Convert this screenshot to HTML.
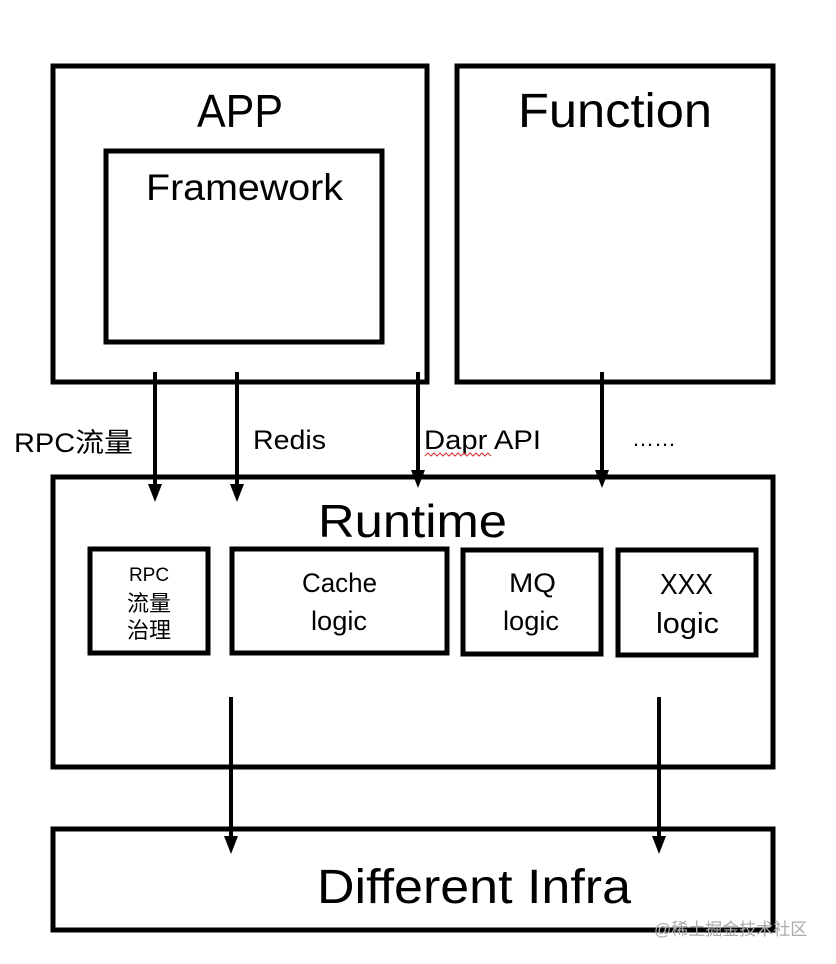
<!DOCTYPE html>
<html><head><meta charset="utf-8"><style>
html,body{margin:0;padding:0;background:#fff;}
svg{display:block;}
text{font-family:"Liberation Sans","Noto Sans CJK SC",sans-serif;fill:#000;}
</style></head><body>
<svg width="836" height="964" viewBox="0 0 836 964" xmlns="http://www.w3.org/2000/svg">
<g fill="none" stroke="#000" stroke-width="5">
<rect x="53" y="66" width="374" height="316"/>
<rect x="106" y="151" width="276" height="191"/>
<rect x="457" y="66" width="316" height="316"/>
<rect x="53" y="477" width="720" height="290"/>
<rect x="90" y="549" width="118" height="104"/>
<rect x="232" y="549" width="215" height="104"/>
<rect x="463" y="550" width="138" height="104"/>
<rect x="618" y="550" width="138" height="105"/>
<rect x="53" y="829" width="720" height="101"/>
</g>
<g stroke="#000" stroke-width="4">
<line x1="155" y1="372" x2="155" y2="486"/>
<line x1="237" y1="372" x2="237" y2="486"/>
<line x1="418" y1="372" x2="418" y2="472"/>
<line x1="602" y1="372" x2="602" y2="472"/>
<line x1="231" y1="697" x2="231" y2="838"/>
<line x1="659" y1="697" x2="659" y2="838"/>
</g>
<g fill="#000">
<polygon points="148,484 162,484 155,502"/>
<polygon points="230,484 244,484 237,502"/>
<polygon points="411,470 425,470 418,488"/>
<polygon points="595,470 609,470 602,488"/>
<polygon points="224,836 238,836 231,854"/>
<polygon points="652,836 666,836 659,854"/>
</g>
<text x="197" y="127" font-size="46" textLength="86" lengthAdjust="spacingAndGlyphs">APP</text>
<text x="146" y="200" font-size="37" textLength="197" lengthAdjust="spacingAndGlyphs">Framework</text>
<text x="518" y="127" font-size="48" textLength="194" lengthAdjust="spacingAndGlyphs">Function</text>
<text x="318" y="537" font-size="46" textLength="189" lengthAdjust="spacingAndGlyphs">Runtime</text>
<text x="317" y="903" font-size="48" textLength="314" lengthAdjust="spacingAndGlyphs">Different Infra</text>
<text x="14" y="452" font-size="27" textLength="119" lengthAdjust="spacingAndGlyphs">RPC流量</text>
<text x="253" y="449" font-size="27" textLength="73" lengthAdjust="spacingAndGlyphs">Redis</text>
<text x="424" y="449" font-size="27" textLength="117" lengthAdjust="spacingAndGlyphs">Dapr API</text>
<path d="M425 456 l3 -3 l3 3 l3 -3 l3 3 l3 -3 l3 3 l3 -3 l3 3 l3 -3 l3 3 l3 -3 l3 3 l3 -3 l3 3 l3 -3 l3 3 l3 -3 l3 3 l3 -3 l3 3 l3 -3 l3 3" fill="none" stroke="#d33" stroke-width="1"/>
<text x="632" y="446" font-size="22" textLength="44" lengthAdjust="spacingAndGlyphs">……</text>
<text x="149" y="581" font-size="19" text-anchor="middle">RPC</text>
<text x="149" y="611" font-size="22" text-anchor="middle">流量</text>
<text x="149" y="638" font-size="22" text-anchor="middle">治理</text>
<text x="302" y="592" font-size="27" textLength="75" lengthAdjust="spacingAndGlyphs">Cache</text>
<text x="311" y="630" font-size="27" textLength="56" lengthAdjust="spacingAndGlyphs">logic</text>
<text x="509" y="592" font-size="27" textLength="47" lengthAdjust="spacingAndGlyphs">MQ</text>
<text x="503" y="630" font-size="27" textLength="56" lengthAdjust="spacingAndGlyphs">logic</text>
<text x="660" y="594" font-size="29" textLength="53" lengthAdjust="spacingAndGlyphs">XXX</text>
<text x="656" y="633" font-size="29" textLength="63" lengthAdjust="spacingAndGlyphs">logic</text>
<text x="654" y="935" font-size="17" style="fill:#aaa">@稀土掘金技术社区</text>
</svg>
</body></html>
